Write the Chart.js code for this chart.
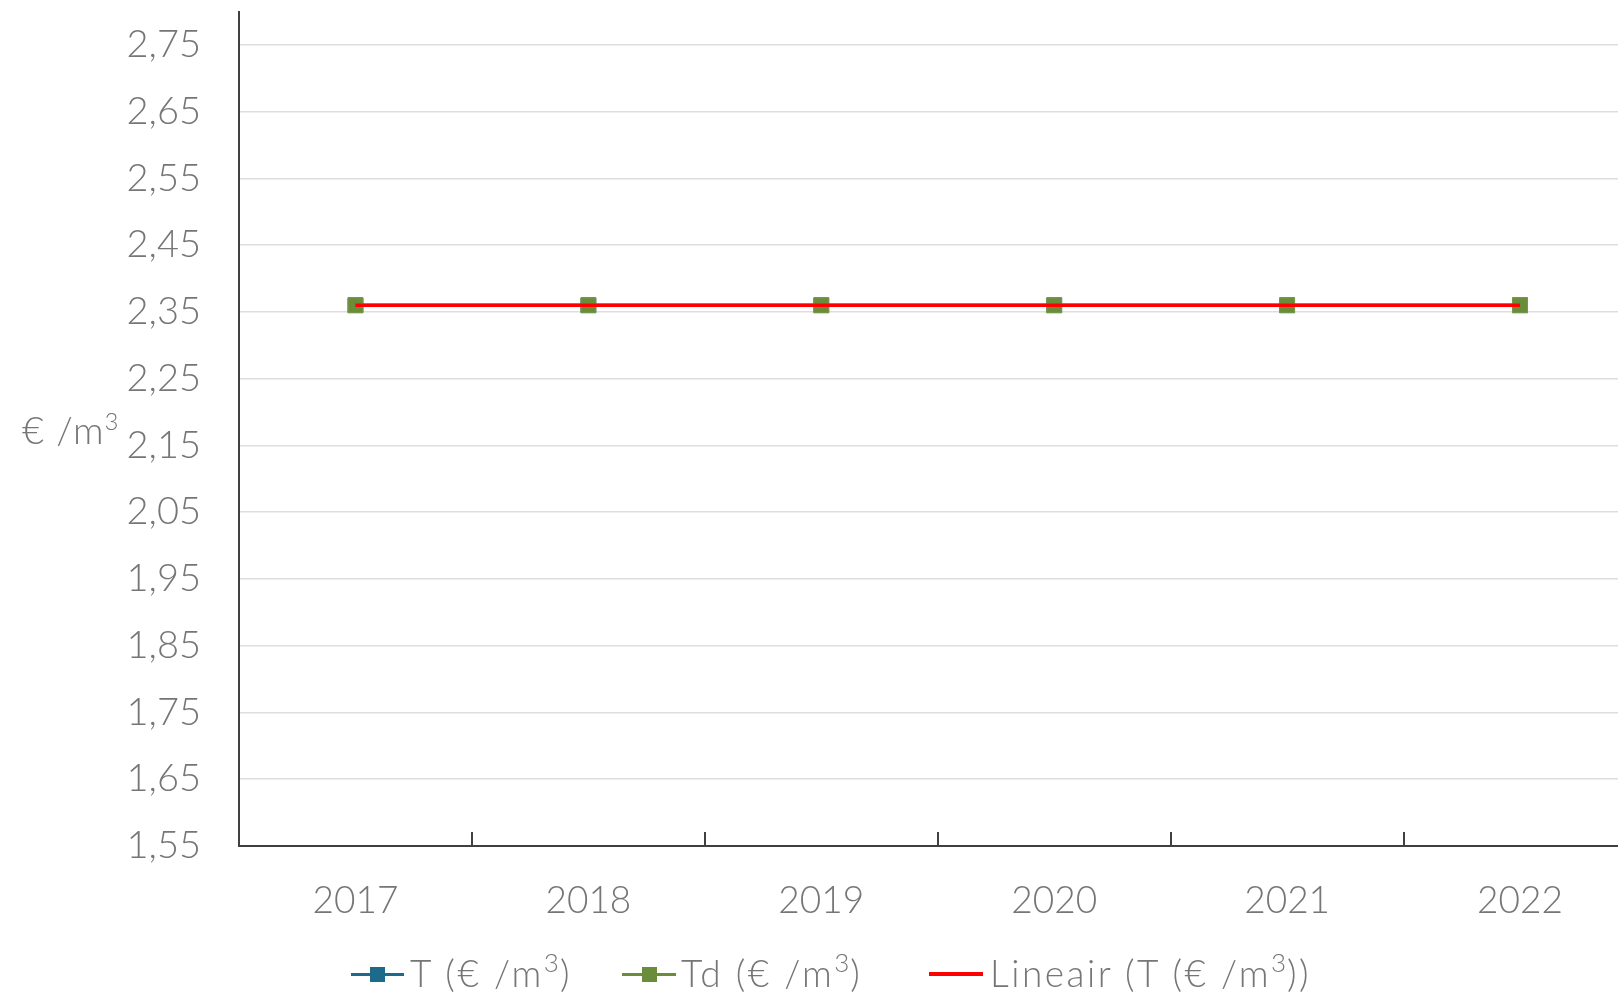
<!DOCTYPE html>
<html>
<head>
<meta charset="utf-8">
<script src="https://cdn.jsdelivr.net/npm/chart.js@4.4.1/dist/chart.umd.min.js"></script>
<style>
  html, body { margin:0; padding:0; background:#fff; overflow:hidden; width:1618px; height:993px; }
  #wrap { position:absolute; left:0; top:0; width:1648px; height:993px; }
  .txt { position:absolute; font-family: Lato, "Open Sans", sans-serif; font-weight:300; color:#767676;
         font-size:37px; line-height:1; white-space:nowrap; }
  .leg { letter-spacing:2.5px; }
  .sup { font-size:26px; position:relative; top:-15px; letter-spacing:1px; }
  .sw-line { position:absolute; height:3px; }
  .sw-mark { position:absolute; width:15px; height:15px; }
</style>
</head>
<body>
<div id="wrap"><canvas id="c" width="1648" height="993"></canvas></div>
<div class="txt" id="ytitle" style="left:22px; top:410px; font-size:38px; letter-spacing:1px;">€ /m<span class="sup" style="top:-14px; font-size:24px; letter-spacing:0;">3</span></div>
<div id="legend"></div>
<script>
// ---- data ----
const categories = ['2017', '2018', '2019', '2020', '2021', '2022'];
const seriesT  = [2.36, 2.36, 2.36, 2.36, 2.36, 2.36];
const seriesTd = [2.36, 2.36, 2.36, 2.36, 2.36, 2.36];
const trendT   = [2.36, 2.36, 2.36, 2.36, 2.36, 2.36];
const seriesNames = ['T (€ /m³)', 'Td (€ /m³)', 'Lineair (T (€ /m³))'];
const yTickValues = [1.55, 1.65, 1.75, 1.85, 1.95, 2.05, 2.15, 2.25, 2.35, 2.45, 2.55, 2.65, 2.75];
const yTickLabels = ['1,55', '1,65', '1,75', '1,85', '1,95', '2,05', '2,15', '2,25', '2,35', '2,45', '2,55', '2,65', '2,75'];
const yMin = 1.55, yMax = 2.80;

// ---- styles ----
const colT = '#1d6b8b', colTd = '#6b8c3a', colTrend = '#ff0000';
const txtCol = '#767676', axisCol = '#404040', gridCol = '#dedede';
const fontFam = 'Lato, "Open Sans", sans-serif';

const innerTicks = {
  id: 'innerTicks',
  afterDraw(chart) {
    const x = chart.scales.x, a = chart.chartArea, ctx = chart.ctx;
    ctx.save();
    ctx.strokeStyle = axisCol;
    ctx.lineWidth = 2;
    for (let i = 0; i <= categories.length; i++) {
      const px = Math.round(x.getPixelForValue(i - 0.5));
      ctx.beginPath();
      ctx.moveTo(px, a.bottom);
      ctx.lineTo(px, a.bottom - 14);
      ctx.stroke();
    }
    ctx.restore();
  }
};

new Chart(document.getElementById('c'), {
  type: 'line',
  data: {
    labels: categories,
    datasets: [
      { label: seriesNames[0], data: seriesT, borderColor: colT, backgroundColor: colT, borderWidth: 3,
        pointStyle: 'rect', pointRadius: 10.5, pointBorderWidth: 1, pointBorderColor: colT, order: 3 },
      { label: seriesNames[1], data: seriesTd, borderColor: colTd, backgroundColor: colTd, borderWidth: 3,
        pointStyle: 'rect', pointRadius: 10.5, pointBorderWidth: 1, pointBorderColor: '#7a9a48', order: 2 },
      { label: seriesNames[2], data: trendT, borderColor: colTrend, backgroundColor: colTrend, borderWidth: 3.5,
        pointRadius: 0, order: 1 }
    ]
  },
  options: {
    responsive: false,
    animation: false,
    devicePixelRatio: 1,
    layout: { padding: { top: 9, left: 0, right: 0, bottom: 0 } },
    plugins: { legend: { display: false }, tooltip: { enabled: false } },
    scales: {
      x: {
        type: 'category',
        offset: true,
        grid: { display: false, drawTicks: false },
        border: { display: true, color: axisCol, width: 2 },
        ticks: { color: txtCol, font: { family: fontFam, size: 37, weight: 300 }, padding: 33, maxRotation: 0 },
        afterFit(s) { s.height = 993 - 846; s.paddingLeft = 0; s.paddingRight = 0; }
      },
      y: {
        min: yMin, max: yMax,
        grid: { color: gridCol, lineWidth: 1.5, drawTicks: false },
        border: { display: true, color: axisCol, width: 2 },
        ticks: {
          color: txtCol, font: { family: fontFam, size: 38, weight: 300 }, padding: 38,
          callback: (v, i) => yTickLabels[i]
        },
        afterBuildTicks(s) { s.ticks = yTickValues.map(v => ({ value: v })); },
        afterFit(s) { s.width = 239; s.paddingTop = 0; s.paddingBottom = 0; }
      }
    }
  },
  plugins: [innerTicks]
});

// ---- HTML legend built from series names ----
const legendItems = [
  { name: seriesNames[0], color: colT, marker: true, lineLeft: 351, lineWidth: 53, textLeft: 410 },
  { name: seriesNames[1], color: colTd, marker: true, lineLeft: 622, lineWidth: 54, textLeft: 681 },
  { name: seriesNames[2], color: colTrend, marker: false, lineLeft: 929, lineWidth: 54, textLeft: 990 }
];
const lg = document.getElementById('legend');
legendItems.forEach(it => {
  const ln = document.createElement('div');
  ln.className = 'sw-line';
  ln.style.left = it.lineLeft + 'px';
  ln.style.width = it.lineWidth + 'px';
  ln.style.top = (it.marker ? 973 : 972) + 'px';
  ln.style.height = (it.marker ? 3 : 4) + 'px';
  ln.style.background = it.color;
  lg.appendChild(ln);
  if (it.marker) {
    const mk = document.createElement('div');
    mk.className = 'sw-mark';
    mk.style.left = (it.lineLeft + it.lineWidth / 2 - 7.5) + 'px';
    mk.style.top = '967px';
    mk.style.background = it.color;
    lg.appendChild(mk);
  }
  const t = document.createElement('div');
  t.className = 'txt leg';
  t.style.left = it.textLeft + 'px';
  t.style.top = '954px';
  // render the superscript 3 larger, as in the reference
  const parts = it.name.split('³');
  parts.forEach((p, k) => {
    t.appendChild(document.createTextNode(p));
    if (k < parts.length - 1) {
      const s = document.createElement('span');
      s.className = 'sup';
      s.textContent = '3';
      t.appendChild(s);
    }
  });
  lg.appendChild(t);
});
</script>
</body>
</html>
